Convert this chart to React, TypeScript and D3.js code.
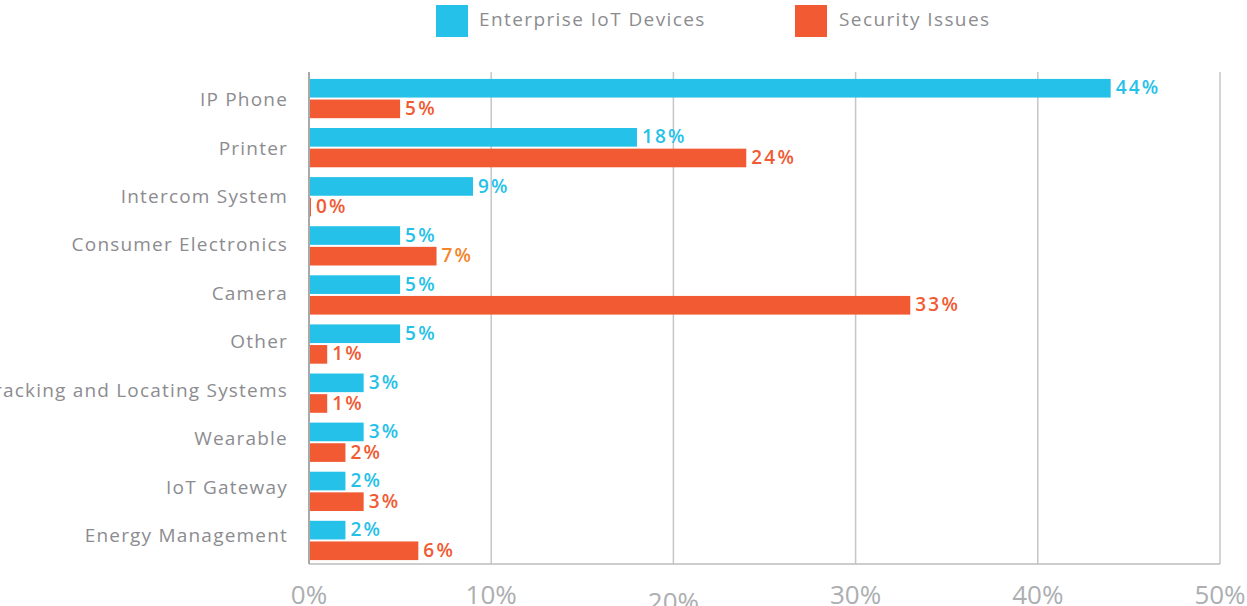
import { useEffect } from 'react';
import * as d3 from 'd3';

// ─── Data ─────────────────────────────────────────────
const categories = [
  'IP Phone',
  'Printer',
  'Intercom System',
  'Consumer Electronics',
  'Camera',
  'Other',
  'Tracking and Locating Systems',
  'Wearable',
  'IoT Gateway',
  'Energy Management',
];
const iotDevices = [44, 18, 9, 5, 5, 5, 3, 3, 2, 2];
const securityIssues = [5, 24, 0, 7, 33, 1, 1, 2, 3, 6];
const xTicks = [0, 10, 20, 30, 40, 50];
const seriesNames = ['Enterprise IoT Devices', 'Security Issues'];

const W = 1247;
const H = 606;
const BLUE = '#25c1e9';
const ORANGE = '#f15a32';
const ORANGE_ALT = '#f5852b';
const GREY_TEXT = '#8c8c90';
const FONT = '"Open Sans", sans-serif';

export default function App() {
  useEffect(() => {
    document.body.style.margin = '0';
  }, []);

  const x = d3.scaleLinear().domain([0, 50]).range([309, 1220]);
  const y = d3
    .scaleBand<string>()
    .domain(categories)
    .range([74, 565])
    .paddingInner(0.2)
    .paddingOuter(0.1);
  // category labels sit on a slightly tighter pitch than the bars
  const yLabel = d3.scalePoint<string>().domain(categories).range([101, 537]);

  const gap = 2;
  const barH = (y.bandwidth() - gap) / 2;
  const top = 72;
  const bottom = 564;

  return (
    <svg width={W} height={H} style={{ display: 'block' }} fontFamily={FONT}>
      {/* legend */}
      <rect x={436} y={5} width={32} height={32} fill={BLUE} />
      <text x={479} y={21} dominantBaseline="middle" fontSize={19} letterSpacing={1.4} fill={GREY_TEXT}>
        {seriesNames[0]}
      </text>
      <rect x={795} y={5} width={32} height={32} fill={ORANGE} />
      <text x={839} y={21} dominantBaseline="middle" fontSize={19} letterSpacing={1.4} fill={GREY_TEXT}>
        {seriesNames[1]}
      </text>

      {/* grid */}
      {xTicks.slice(1).map((t) => (
        <line key={t} x1={x(t)} x2={x(t)} y1={top} y2={bottom} stroke="#c6c6c6" strokeWidth={1.5} />
      ))}
      <line x1={x(0)} x2={x(50)} y1={bottom} y2={bottom} stroke="#bdbdbd" strokeWidth={1.5} />

      {/* bars */}
      {categories.map((c, i) => {
        const y0 = y(c)!;
        const b = iotDevices[i];
        const s = securityIssues[i];
        const bx = x(b);
        const sx = Math.max(x(s), x(0) + 2);
        return (
          <g key={c}>
            <rect x={x(0)} y={y0} width={bx - x(0)} height={barH} fill={BLUE} />
            <rect x={x(0)} y={y0 + barH + gap} width={sx - x(0)} height={barH} fill={ORANGE} />
            <text
              x={bx + 5}
              y={y0 + barH / 2 + 1}
              dominantBaseline="middle"
              fontSize={19}
              fontWeight={600}
              letterSpacing={2.2}
              fill={BLUE}
            >
              {b}%
            </text>
            <text
              x={sx + 5}
              y={y0 + barH + gap + barH / 2 + 1}
              dominantBaseline="middle"
              fontSize={19}
              fontWeight={600}
              letterSpacing={2.2}
              fill={c === 'Consumer Electronics' ? ORANGE_ALT : ORANGE}
            >
              {s}%
            </text>
            <text
              x={288}
              y={yLabel(c)!}
              textAnchor="end"
              dominantBaseline="middle"
              fontSize={19}
              letterSpacing={1.2}
              fill={GREY_TEXT}
            >
              {c}
            </text>
          </g>
        );
      })}

      {/* left axis */}
      <line x1={x(0)} x2={x(0)} y1={top} y2={bottom} stroke="#a9a9a9" strokeWidth={2} />

      {/* x tick labels */}
      {xTicks.map((t, i) => (
        <text
          key={t}
          x={x(t)}
          y={i === 2 ? 611 : 604}
          textAnchor="middle"
          fontSize={26}
          fill="#acaeb1"
        >
          {t}%
        </text>
      ))}
    </svg>
  );
}
